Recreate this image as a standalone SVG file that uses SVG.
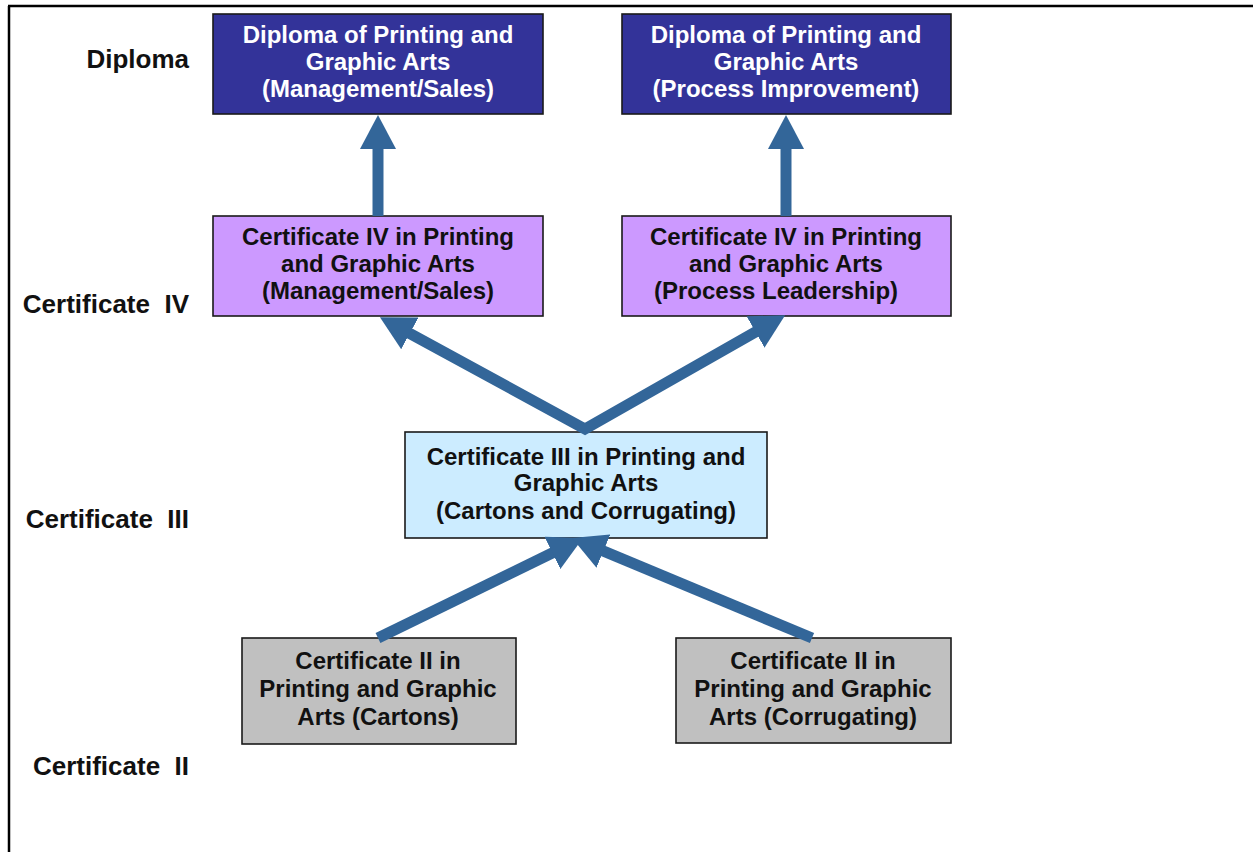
<svg xmlns="http://www.w3.org/2000/svg" width="1255" height="852" viewBox="0 0 1255 852">
<defs>
<style>
.box{stroke:#1a1a1a;stroke-width:1.6}
.dip{fill:#333399}
.c4{fill:#cc99ff}
.c3{fill:#ccecff}
.c2{fill:#c0c0c0}
.t{font-family:"Liberation Sans",Arial,sans-serif;font-weight:bold;font-size:24px;text-anchor:middle;fill:#111}
.tw{fill:#ffffff}
.lvl{font-family:"Liberation Sans",Arial,sans-serif;font-weight:bold;font-size:26px;text-anchor:end;fill:#111;white-space:pre}
.arr{fill:none;stroke:#336699;stroke-width:11;stroke-linejoin:miter;stroke-miterlimit:10}
.frame{stroke:#000;stroke-width:2.5;fill:none}
</style>
<marker id="ah" markerUnits="userSpaceOnUse" markerWidth="34" markerHeight="36" viewBox="0 0 34 36" refX="18" refY="18" orient="auto-start-reverse">
<path d="M0,0 L34,18 L0,36 z" fill="#336699"/>
</marker>
</defs>
<rect width="1255" height="852" fill="#ffffff"/>
<g id="frame">
<line class="frame" x1="8" y1="6" x2="1253" y2="6"/>
<line class="frame" x1="9" y1="6" x2="9" y2="852"/>
</g>
<g id="levels">
<text class="lvl" x="189" y="68">Diploma</text>
<text class="lvl" x="189" y="313">Certificate  IV</text>
<text class="lvl" x="189" y="528">Certificate  III</text>
<text class="lvl" x="189" y="775">Certificate  II</text>
</g>
<g id="dip1">
<rect class="box dip" x="213" y="14" width="330" height="100"/>
<text class="t tw" x="378" y="43">Diploma of Printing and</text>
<text class="t tw" x="378" y="70">Graphic Arts</text>
<text class="t tw" x="378" y="97">(Management/Sales)</text>
</g>
<g id="dip2">
<rect class="box dip" x="622" y="14" width="329" height="100"/>
<text class="t tw" x="786" y="43">Diploma of Printing and</text>
<text class="t tw" x="786" y="70">Graphic Arts</text>
<text class="t tw" x="786" y="97">(Process Improvement)</text>
</g>
<g id="cert4a">
<rect class="box c4" x="213" y="216" width="330" height="100"/>
<text class="t" x="378" y="245">Certificate IV in Printing</text>
<text class="t" x="378" y="272">and Graphic Arts</text>
<text class="t" x="378" y="299">(Management/Sales)</text>
</g>
<g id="cert4b">
<rect class="box c4" x="622" y="216" width="329" height="100"/>
<text class="t" x="786" y="245">Certificate IV in Printing</text>
<text class="t" x="786" y="272">and Graphic Arts</text>
<text class="t" x="776" y="299">(Process Leadership)</text>
</g>
<g id="cert3">
<rect class="box c3" x="405" y="432" width="362" height="106"/>
<text class="t" x="586" y="465">Certificate III in Printing and</text>
<text class="t" x="586" y="491">Graphic Arts</text>
<text class="t" x="586" y="519">(Cartons and Corrugating)</text>
</g>
<g id="cert2a">
<rect class="box c2" x="242" y="638" width="274" height="106"/>
<text class="t" x="378" y="669">Certificate II in</text>
<text class="t" x="378" y="697">Printing and Graphic</text>
<text class="t" x="378" y="725">Arts (Cartons)</text>
</g>
<g id="cert2b">
<rect class="box c2" x="676" y="638" width="275" height="105"/>
<text class="t" x="813" y="669">Certificate II in</text>
<text class="t" x="813" y="697">Printing and Graphic</text>
<text class="t" x="813" y="725">Arts (Corrugating)</text>
</g>
<g id="connectors">
<line class="arr" x1="378" y1="216" x2="378" y2="131" marker-end="url(#ah)"/>
<line class="arr" x1="786" y1="216" x2="786" y2="131" marker-end="url(#ah)"/>
<polyline class="arr" points="394,324.8 585,429 771.2,323.1" marker-start="url(#ah)" marker-end="url(#ah)"/>
<line class="arr" x1="378" y1="638" x2="568.6" y2="545" marker-end="url(#ah)"/>
<line class="arr" x1="812" y1="638" x2="586.8" y2="544.2" marker-end="url(#ah)"/>
</g>
</svg>
